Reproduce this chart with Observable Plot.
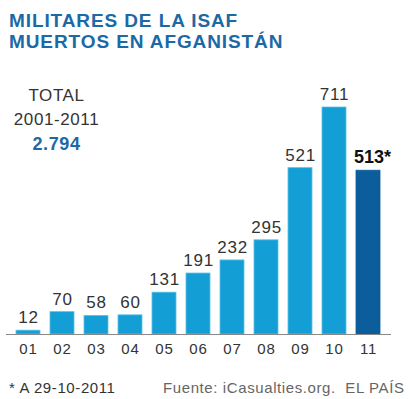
<!DOCTYPE html>
<html><head><meta charset="utf-8">
<script src="https://cdn.jsdelivr.net/npm/d3@7"></script>
<script src="https://cdn.jsdelivr.net/npm/@observablehq/plot@0.6"></script>
<style>
body{margin:0;background:#fff;font-family:"Liberation Sans",Arial,sans-serif;}
#wrap{position:relative;width:414px;height:399px;overflow:hidden;}
#chart{position:absolute;left:0;top:0;}
.t{position:absolute;white-space:nowrap;}
</style></head><body>
<div id="wrap">
<div id="chart"></div>
<div class="t" style="left:9px;top:10px;font-size:19px;letter-spacing:0.9px;font-weight:bold;color:#1b6aa6;line-height:21px;">MILITARES DE LA ISAF<br>MUERTOS EN AFGANISTÁN</div>
<div class="t" style="left:0;width:113px;top:84px;text-align:center;font-size:17px;letter-spacing:0.6px;color:#333;line-height:24px;">TOTAL<br>2001-2011<br><b style="color:#1b6aa6;font-size:18px;">2.794</b></div>
<div class="t" style="left:9px;top:379px;font-size:15px;letter-spacing:0.6px;color:#333;">* A 29-10-2011</div>
<div class="t" style="left:163px;top:379px;font-size:15px;letter-spacing:0.6px;color:#666;">Fuente: iCasualties.org.&nbsp; EL PAÍS</div>
</div>
<script>
const years = ["01","02","03","04","05","06","07","08","09","10","11"];
const deaths = [12,70,58,60,131,191,232,295,521,711,513];
const labels = ["12","70","58","60","131","191","232","295","521","711","513*"];
const data = years.map((y,i)=>({year:y, value:deaths[i], label:labels[i], last:i===years.length-1}));
const chart = Plot.plot({
  width:414, height:399,
  marginLeft:6, marginRight:23, marginTop:107, marginBottom:65,
  style:{fontFamily:"Liberation Sans, Arial, sans-serif", background:"transparent"},
  x:{domain:years, padding:0.29, label:null, tickSize:0, tickPadding:9},
  y:{domain:[0,711], axis:null},
  marks:[
    Plot.barY(data,{x:"year", y:"value", fill:d=>d.last?"#0b5d9c":"#139fd6", stroke:d=>d.last?"#0b5d9c":"#5cc0e6", strokeWidth:0.8}),
    Plot.ruleY([0],{stroke:"#888", strokeWidth:1.2}),
    Plot.text(data.filter(d=>!d.last),{x:"year", y:"value", text:"label", dy:-13, fontSize:17, fill:"#333", style:"letter-spacing:0.8px"}),
    Plot.text(data.filter(d=>d.last),{x:"year", y:"value", text:"label", dy:-13, dx:4, fontSize:18, fontWeight:"bold", fill:"#111"}),
    Plot.axisX({tickSize:0, tickPadding:9, fontSize:15, color:"#333", label:null})
  ]
});
chart.querySelectorAll("g[aria-label='x-axis tick label']").forEach(e=>{e.setAttribute("font-size","15");e.setAttribute("fill","#333");e.setAttribute("letter-spacing","0.8");});
chart.querySelectorAll("g[aria-label='text']").forEach((g,i)=>{ if(i===0) g.setAttribute("letter-spacing","0.8"); });
document.getElementById("chart").appendChild(chart);
</script>
</body></html>
